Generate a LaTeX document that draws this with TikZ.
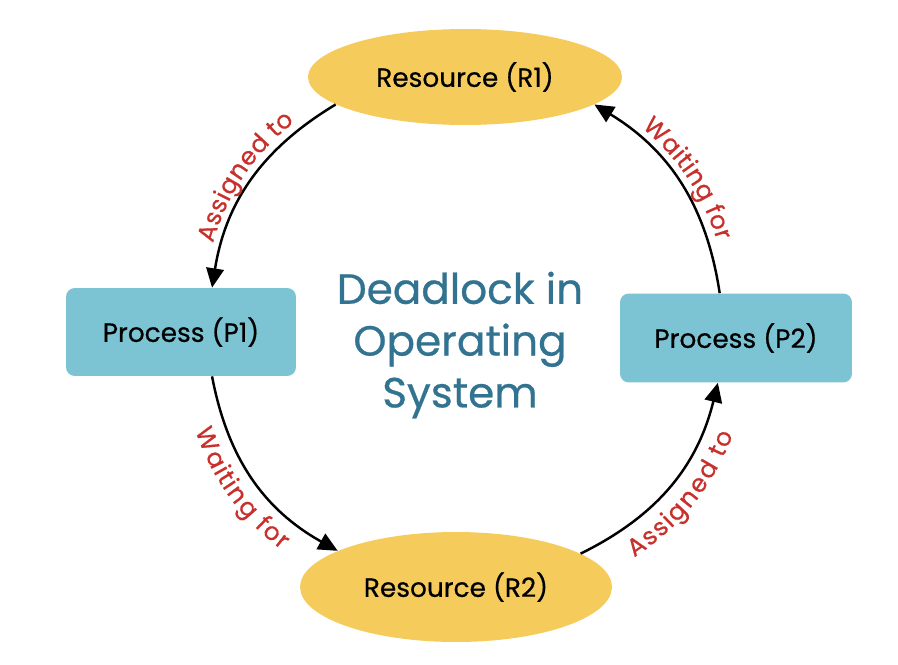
\documentclass[tikz,border=0pt]{standalone}
\usepackage{fontspec}
\setmainfont{Poppins}
\newfontfamily\medfont{Poppins}[FakeBold=0.6]
\usetikzlibrary{shapes.geometric,arrows.meta,decorations.text}
\definecolor{resyellow}{RGB}{245,204,92}
\definecolor{procblue}{RGB}{124,196,212}
\definecolor{titleteal}{RGB}{50,115,145}
\definecolor{lblred}{RGB}{200,48,44}
\newcommand\boxfont{\medfont\fontsize{15}{17}\selectfont}
\newcommand\lblfont{\medfont\fontsize{14}{16}\selectfont}

\begin{document}
\begin{tikzpicture}[x=0.02cm,y=0.02cm,
    res/.style={ellipse,fill=resyellow,inner sep=0pt,font=\boxfont},
    proc/.style={rectangle,rounded corners=5pt,fill=procblue,minimum width=4.6cm,minimum height=1.76cm,font=\boxfont},
    link/.style={-{Triangle[length=11pt,width=10pt]},line width=1.4pt,bend right=25},
    lblout/.style={postaction={decorate,decoration={text along path,text={|\lblfont|#1},text color=lblred,text align=center,raise=5pt,reverse path=true}}},
    lblin/.style={postaction={decorate,decoration={text along path,text={|\lblfont|#1},text color=lblred,text align=center,raise=-17pt}}}]
    \useasboundingbox (0,0) rectangle (898,664);
    \node[res,minimum width=6.28cm,minimum height=1.92cm] (r1) at (465,587) {Resource (R1)};
    \node[res,minimum width=6.24cm,minimum height=2.2cm] (r2) at (456,77) {Resource (R2)};
    \node[proc] (p1) at (181,332) {Process (P1)};
    \node[proc,minimum width=4.64cm,minimum height=1.78cm] (p2) at (736,326) {Process (P2)};
    \node[text=titleteal,align=center,font=\medfont\fontsize{24}{29.5}\selectfont] (title) at (460,319) {Deadlock in\\Operating\\System};
    \draw[link,lblout=Assigned to] (r1.192) to (p1.55);
    \draw[link,lblin=Waiting for] (p1.-55) to (r2.163);
    \draw[link,lblin=Assigned to] (r2.15) to (p2.248);
    \draw[link,lblout=Waiting for] (p2.110) to (r1.-12);
  \end{tikzpicture}
\end{document}
